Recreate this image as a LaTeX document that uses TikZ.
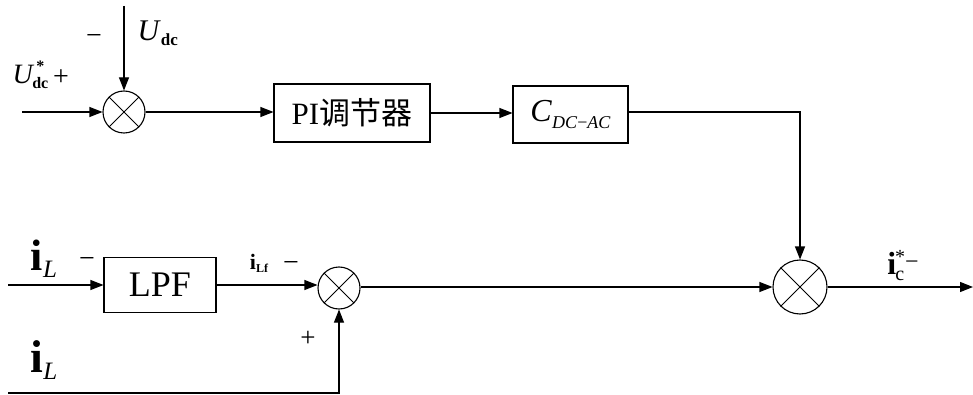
\documentclass[tikz,border=0pt]{standalone}
\usepackage{fontspec}
\setmainfont{Liberation Serif}
\newfontfamily\cjk{Noto Sans CJK SC}
\usetikzlibrary{arrows.meta}
\begin{document}
\begin{tikzpicture}[x=1pt,y=-1pt, line width=1.1pt,
  box/.style={draw, rectangle, inner sep=0pt},
  sumj/.style={draw, circle, inner sep=0pt, minimum size=#1},
  arr/.style={-{Triangle[length=13pt,width=10pt]}},
  lbl/.style={inner sep=0pt, font=\fontsize{28}{30}\selectfont}]
\useasboundingbox (0,0) rectangle (973,395);
% blocks
\node[sumj=42pt] (s1) at (124,112) {};
\node[box, minimum width=156pt, minimum height=58pt, font=\fontsize{31}{33}\selectfont] (pi) at (352,113) {PI{\cjk 调节器}};
\node[box, minimum width=115pt, minimum height=57pt] (c) at (570.5,114.5) {\fontsize{32}{34}\selectfont\textit{C}\raisebox{-7pt}{\fontsize{18}{20}\selectfont\textit{DC}−\textit{AC}}};
\node[sumj=54pt] (s3) at (800,287) {};
\node[box, minimum width=112pt, minimum height=55pt, font=\fontsize{36}{38}\selectfont] (lpf) at (160,285) {LPF};
\node[sumj=42pt] (s2) at (339,288) {};
% crosses
\foreach \s in {s1,s2,s3}{
  \draw[line width=0.9pt] (\s.45) -- (\s.225);
  \draw[line width=0.9pt] (\s.135) -- (\s.315);
}
% free ends
\coordinate (in1) at (22,112);
\coordinate (top1) at (124,6);
\coordinate (in2) at (8,285);
\coordinate (in3) at (8,393);
\coordinate (out) at (973,287);
% connectors
\draw[arr] (in1) -- (s1.west);
\draw[arr] (top1) -- (s1.north);
\draw[arr] (s1.east) -- (s1.east -| pi.west);
\draw[arr] (pi.east) -- (pi.east -| c.west);
\draw[arr] (c.east |- 0,112) -| (s3.north);
\draw[arr] (in2) -- (lpf.west);
\draw[arr] (lpf.east) -- (lpf.east -| s2.west);
\draw[arr] (s2.east |- s3.west) -- (s3.west);
\draw[arr] (in3) -| (s2.south);
\draw[arr] (s3.east) -- (out);
% labels
\node[lbl] (m1) at (94,40) {−};
\node[inner sep=0pt, anchor=west] (udc) at (137,33) {\fontsize{30}{32}\selectfont\textit{U}\raisebox{-5pt}{\fontsize{17}{19}\selectfont\textbf{dc}}};
\node[inner sep=0pt, anchor=west] (udcs) at (12,75) {\fontsize{28}{30}\selectfont\textit{U}\hspace{-2pt}\raisebox{-5pt}{\fontsize{16}{18}\selectfont\textbf{dc}}\hspace{-12pt}\raisebox{12pt}{\fontsize{16}{18}\selectfont\textbf{*}}\hspace{6pt}};
\node[lbl] (p1) at (61,78) {+};
\node[inner sep=0pt] (il1) at (44,259) {\fontsize{44}{46}\selectfont\textbf{i}\raisebox{-7pt}{\fontsize{25}{27}\selectfont\textit{L}}};
\node[lbl] (m2) at (87,263) {−};
\node[inner sep=0pt] (ilf) at (259,263) {\fontsize{22}{24}\selectfont\textbf{i}\raisebox{-3pt}{\fontsize{12}{14}\selectfont\textbf{Lf}}};
\node[lbl] (m3) at (291,267) {−};
\node[inner sep=0pt, font=\fontsize{27}{29}\selectfont] (p2) at (308,339) {+};
\node[inner sep=0pt] (il2) at (44,360) {\fontsize{46}{48}\selectfont\textbf{i}\raisebox{-7pt}{\fontsize{25}{27}\selectfont\textit{L}}};
\node[inner sep=0pt] (ic) at (903,266) {\fontsize{32}{34}\selectfont\textbf{i}\hspace{-1pt}\raisebox{-6pt}{\fontsize{20}{22}\selectfont c}\hspace{-9pt}\raisebox{11pt}{\fontsize{20}{22}\selectfont *}\raisebox{5pt}{\fontsize{24}{26}\selectfont −}};
\end{tikzpicture}
\end{document}
